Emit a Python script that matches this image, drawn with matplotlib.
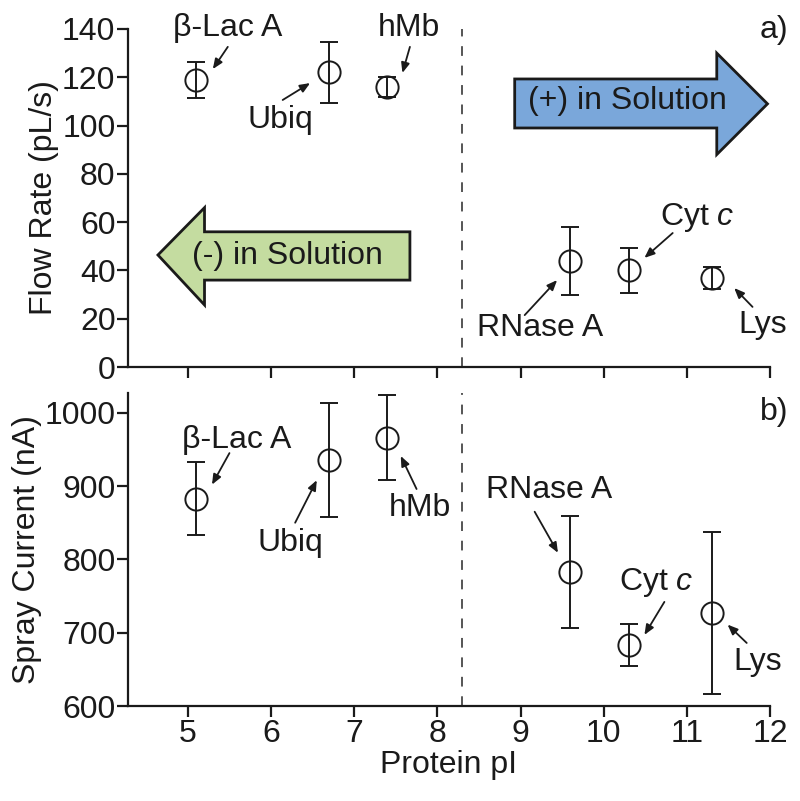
import matplotlib
matplotlib.use('Agg')
import matplotlib.pyplot as plt
import matplotlib.patches as mpatches

plt.rcParams['font.family'] = ['Liberation Sans', 'DejaVu Sans']
plt.rcParams['mathtext.fontset'] = 'custom'
plt.rcParams['mathtext.it'] = 'Liberation Sans:italic'

# protein pI values
proteins = ['β-Lac A', 'Ubiq', 'hMb', 'RNase A', 'Cyt c', 'Lys']
pI = [5.1, 6.7, 7.4, 9.6, 10.3, 11.3]

# panel a) flow rate (pL/s)
flow = [119, 122, 116, 44, 40, 37]
flow_err = [7.5, 12.5, 4, 14, 9.5, 4.5]

# panel b) spray current (nA)
current = [883, 936, 966, 783, 683, 727]
current_err = [50, 78, 58, 76, 29, 110]

x_ticks = [5, 6, 7, 8, 9, 10, 11, 12]
flow_ticks = [0, 20, 40, 60, 80, 100, 120, 140]
current_ticks = [600, 700, 800, 900, 1000]
pI_split = 8.3

FS = 23
INK = '#1a1a1a'

fig = plt.figure(figsize=(8, 8.01), dpi=100)
fig.patch.set_facecolor('white')
ax1 = fig.add_axes([0.16, 0.5418, 0.8025, 0.422])
ax2 = fig.add_axes([0.16, 0.1186, 0.8025, 0.3908])


def style(ax):
    ax.set_xlim(4.28, 12)
    for s in ['top', 'right']:
        ax.spines[s].set_visible(False)
    for s in ['left', 'bottom']:
        ax.spines[s].set_linewidth(1.6)
        ax.spines[s].set_color(INK)
    ax.tick_params(direction='out', length=8, width=1.6, colors=INK,
                   labelsize=FS, pad=1)
    ax.set_xticks(x_ticks)
    ax.axvline(pI_split, color='#555555', lw=1.4, ls=(0, (5, 5)), zorder=0)


def points(ax, y, yerr):
    ax.errorbar(pI, y, yerr=yerr, fmt='o', ms=16, mfc='none', mec=INK, mew=1.4,
                ecolor=INK, elinewidth=1.4, capsize=6.5, capthick=1.4, zorder=3)


def label(ax, txt, xy_text, tail, head):
    ax.text(*xy_text, txt, ha='center', va='center', fontsize=FS, color=INK)
    ax.annotate('', xy=head, xytext=tail,
                arrowprops=dict(arrowstyle='-|>,head_length=0.6,head_width=0.25',
                                lw=1.3, color=INK, shrinkA=0, shrinkB=0))


# ---- panel a ----
style(ax1)
ax1.set_ylim(0, 140)
ax1.set_yticks(flow_ticks)
ax1.tick_params(axis='x', labelbottom=False)
ax1.set_ylabel('Flow Rate (pL/s)', fontsize=FS, color=INK, labelpad=2)
points(ax1, flow, flow_err)

green = mpatches.Polygon([(4.64, 46.4), (5.2, 66), (5.2, 56), (7.67, 56), (7.67, 36),
                          (5.2, 36), (5.2, 25.7)], closed=True, facecolor='#C4DCA0',
                         edgecolor=INK, lw=2, zorder=2, clip_on=False)
ax1.add_patch(green)
ax1.text(6.2, 46, '(-) in Solution', ha='center', va='center', fontsize=FS, color=INK, zorder=4)

blue = mpatches.Polygon([(8.93, 119.3), (11.36, 119.3), (11.36, 130), (11.97, 109),
                         (11.36, 88), (11.36, 99), (8.93, 99)], closed=True,
                        facecolor='#7AA7DA', edgecolor=INK, lw=2, zorder=2, clip_on=False)
ax1.add_patch(blue)
ax1.text(10.29, 110.3, '(+) in Solution', ha='center', va='center', fontsize=FS, color=INK, zorder=4)

label(ax1, 'β-Lac A', (5.48, 140.4), (5.48, 132.6), (5.30, 123.4))
label(ax1, 'Ubiq', (6.11, 102.3), (6.14, 110.6), (6.47, 117.6))
label(ax1, 'hMb', (7.66, 140.4), (7.67, 132.6), (7.58, 121.8))
label(ax1, 'Cyt $\\it{c}$', (11.12, 62.1), (10.83, 55.5), (10.49, 45.2))
label(ax1, 'RNase A', (9.23, 16.2), (9.05, 21.5), (9.44, 36.0))
label(ax1, 'Lys', (11.91, 17.4), (11.79, 24.9), (11.57, 32.7))
ax1.text(12.05, 139.6, 'a)', ha='center', va='center', fontsize=FS, color=INK)

# ---- panel b ----
style(ax2)
ax2.set_ylim(600, 1027)
ax2.set_yticks(current_ticks)
ax2.set_ylabel('Spray Current (nA)', fontsize=FS, color=INK, labelpad=2)
ax2.set_xlabel('Protein pI', fontsize=FS, color=INK, labelpad=1)
points(ax2, current, current_err)

label(ax2, 'β-Lac A', (5.59, 963), (5.50, 945), (5.29, 902))
label(ax2, 'Ubiq', (6.23, 822), (6.29, 850), (6.55, 908))
label(ax2, 'hMb', (7.79, 870), (7.75, 896), (7.56, 941))
label(ax2, 'RNase A', (9.35, 895), (9.17, 865), (9.45, 809))
label(ax2, 'Cyt $\\it{c}$', (10.63, 768), (10.73, 742), (10.49, 697))
label(ax2, 'Lys', (11.85, 660), (11.72, 686), (11.49, 711))
ax2.text(12.05, 1001, 'b)', ha='center', va='center', fontsize=FS, color=INK)

fig.savefig('out.png', dpi=100, facecolor='white')
plt.close(fig)
